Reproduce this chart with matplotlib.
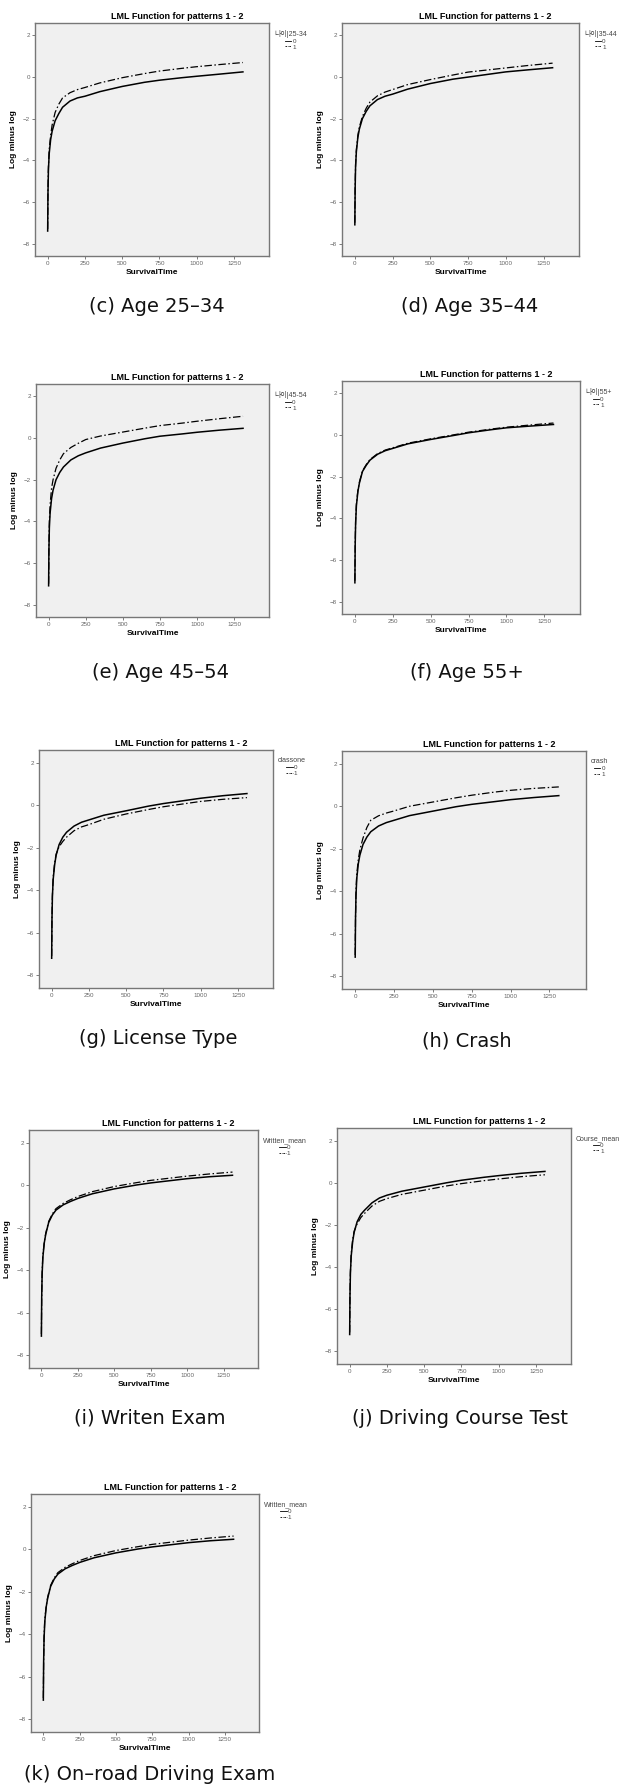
import numpy as np
import matplotlib
matplotlib.use('Agg')
import matplotlib.pyplot as plt
from matplotlib.lines import Line2D

plt.rcParams['font.family'] = ['Liberation Sans', 'Noto Sans CJK KR']

# survival time grid (days) shared by all panels
T = [0, 2, 5, 10, 20, 30, 50, 75, 100, 150, 200, 250, 350, 500, 650, 750, 900, 1000, 1150, 1310]

# log minus log values: group 0 (solid), group 1 (dash-dot)
C_S = [-7.4, -5.6, -4.5, -3.7, -3.0, -2.6, -2.1, -1.75, -1.45, -1.15, -1.0, -0.92, -0.7, -0.45, -0.25, -0.15, -0.03, 0.04, 0.14, 0.25]
C_D = [-7.3, -5.4, -4.3, -3.5, -2.8, -2.3, -1.7, -1.3, -1.0, -0.75, -0.6, -0.5, -0.28, -0.03, 0.17, 0.29, 0.42, 0.5, 0.6, 0.7]
D_S = [-7.1, -5.4, -4.3, -3.6, -2.9, -2.5, -2.0, -1.65, -1.38, -1.08, -0.92, -0.82, -0.58, -0.31, -0.1, 0.0, 0.15, 0.25, 0.35, 0.45]
D_D = [-7.0, -5.3, -4.2, -3.5, -2.8, -2.4, -1.9, -1.5, -1.2, -0.9, -0.72, -0.6, -0.36, -0.12, 0.1, 0.24, 0.36, 0.44, 0.56, 0.67]
E_S = [-7.1, -5.4, -4.3, -3.6, -2.9, -2.5, -2.0, -1.65, -1.39, -1.05, -0.85, -0.71, -0.48, -0.24, -0.03, 0.09, 0.2, 0.28, 0.38, 0.47]
E_D = [-7.0, -5.2, -4.0, -3.2, -2.4, -2.0, -1.45, -1.05, -0.75, -0.45, -0.25, -0.07, 0.1, 0.29, 0.48, 0.6, 0.72, 0.81, 0.93, 1.05]
F_S = [-7.1, -5.3, -4.2, -3.4, -2.7, -2.3, -1.75, -1.45, -1.2, -0.92, -0.75, -0.64, -0.42, -0.21, -0.02, 0.11, 0.26, 0.35, 0.43, 0.51]
F_D = [-7.0, -5.2, -4.1, -3.3, -2.65, -2.25, -1.72, -1.42, -1.17, -0.89, -0.72, -0.61, -0.39, -0.18, 0.01, 0.14, 0.29, 0.38, 0.48, 0.58]
G_S = [-7.2, -5.4, -4.3, -3.5, -2.8, -2.35, -1.85, -1.5, -1.27, -0.98, -0.8, -0.69, -0.47, -0.26, -0.04, 0.08, 0.23, 0.33, 0.45, 0.55]
G_D = [-7.1, -5.3, -4.2, -3.4, -2.7, -2.3, -1.95, -1.7, -1.5, -1.2, -1.02, -0.91, -0.66, -0.41, -0.2, -0.07, 0.08, 0.18, 0.28, 0.36]
H_S = [-7.1, -5.3, -4.2, -3.4, -2.7, -2.3, -1.8, -1.45, -1.2, -0.93, -0.77, -0.66, -0.44, -0.23, -0.02, 0.09, 0.22, 0.31, 0.41, 0.5]
H_D = [-7.0, -5.2, -4.0, -3.2, -2.5, -2.05, -1.5, -1.0, -0.66, -0.45, -0.32, -0.22, 0.0, 0.2, 0.4, 0.52, 0.67, 0.75, 0.84, 0.91]
W_S = [-7.1, -5.3, -4.2, -3.4, -2.7, -2.3, -1.75, -1.4, -1.17, -0.92, -0.76, -0.62, -0.4, -0.17, 0.01, 0.11, 0.23, 0.31, 0.4, 0.47]
W_D = [-7.0, -5.2, -4.1, -3.3, -2.65, -2.25, -1.7, -1.35, -1.1, -0.85, -0.68, -0.53, -0.3, -0.06, 0.12, 0.23, 0.35, 0.43, 0.53, 0.62]
J_S = [-7.2, -5.4, -4.3, -3.5, -2.8, -2.35, -1.85, -1.5, -1.3, -0.95, -0.72, -0.59, -0.4, -0.2, 0.0, 0.12, 0.26, 0.34, 0.45, 0.54]
J_D = [-7.1, -5.3, -4.2, -3.4, -2.7, -2.3, -1.95, -1.65, -1.45, -1.1, -0.88, -0.75, -0.55, -0.35, -0.15, -0.04, 0.1, 0.18, 0.29, 0.38]

LEG_TITLES = ['나이|25-34', '나이|35-44', '나이|45-54', '나이|55+', 'classone',
              'crash', 'Written_mean', 'Course_mean', 'Written_mean']
CAPTIONS = ['(c) Age 25–34', '(d) Age 35–44', '(e) Age 45–54', '(f) Age 55+',
            '(g) License Type', '(h) Crash', '(i) Writen Exam',
            '(j) Driving Course Test', '(k) On–road Driving Exam']
SERIES = [(C_S, C_D), (D_S, D_D), (E_S, E_D), (F_S, F_D), (G_S, G_D),
          (H_S, H_D), (W_S, W_D), (J_S, J_D), (W_S, W_D)]

# panel boxes in pixels (left, top, right, bottom) and caption centres
BOXES = [(35, 23, 269, 256), (342, 23, 579, 256), (36, 384, 269, 617),
         (342, 381, 580, 614), (39, 750, 273, 988), (342, 751, 586, 989),
         (29, 1130, 258, 1368), (337, 1128, 571, 1364), (31, 1494, 259, 1732)]
CAP_POS = [(157, 306), (470, 306), (160, 673), (467, 673), (158, 1039),
           (467, 1041), (150, 1418), (460, 1419), (150, 1775)]

W, H = 629, 1787
fig = plt.figure(figsize=(W/100, H/100), dpi=100)
DASHDOT = (0, (6, 2, 1.2, 2))

for (l, t, r, b), (s, d), lt in zip(BOXES, SERIES, LEG_TITLES):
    ax = fig.add_axes([l/W, 1-b/H, (r-l)/W, (b-t)/H])
    ax.set_facecolor('#f0f0f0')
    ax.plot(T, d, color='black', lw=0.9, ls=DASHDOT)
    ax.plot(T, s, color='black', lw=1.1)
    ax.set_xlim(-85, 1485)
    ax.set_ylim(-8.6, 2.6)
    ax.set_xticks([0, 250, 500, 750, 1000, 1250])
    ax.set_yticks([2, 0, -2, -4, -6, -8])
    ax.tick_params(labelsize=4.5, length=2, width=0.6, colors='#666666', pad=1.5)
    for sp in ax.spines.values():
        sp.set_color('#777777'); sp.set_linewidth(1.0)
    ax.set_xlabel('SurvivalTime', fontsize=6, fontweight='bold', labelpad=2)
    ax.set_ylabel('Log minus log', fontsize=6, fontweight='bold', labelpad=4)
    ax.set_title('LML Function for patterns 1 - 2', fontsize=6.5, fontweight='bold',
                 pad=3, x=0.5 + 25/(r-l))
    handles = [Line2D([], [], color='black', lw=0.6),
               Line2D([], [], color='black', lw=0.6, ls=(0, (2, 1, 0.6, 1)))]
    leg = ax.legend(handles, ['0', '1'], title=lt, loc='upper left',
                    bbox_to_anchor=(1.005, 0.985), frameon=False, fontsize=4.5,
                    title_fontsize=5, handlelength=1.0, handletextpad=0.2,
                    labelspacing=0.05, borderaxespad=0.2, alignment='center')
    leg.get_title().set_color('#444444')
    for txt in leg.get_texts():
        txt.set_color('#444444')

for (cx, cy), cap in zip(CAP_POS, CAPTIONS):
    fig.text(cx/W, 1-cy/H, cap, ha='center', va='center', fontsize=14,
             family=['DejaVu Sans', 'Noto Sans CJK KR'], color='#111111')

fig.savefig('out.png', dpi=100)
